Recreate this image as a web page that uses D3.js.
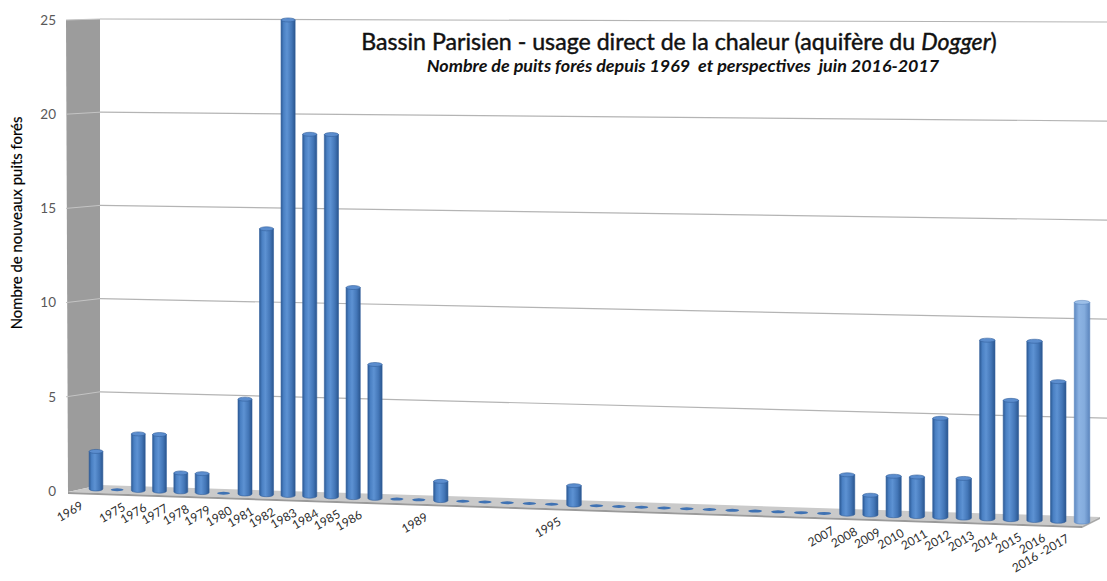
<!DOCTYPE html>
<html>
<head>
<meta charset="utf-8">
<script src="https://cdn.jsdelivr.net/npm/d3@7"></script>
<style>
  body { margin: 0; background: #fff; }
  text { font-family: Lato, "Open Sans", sans-serif; }
</style>
</head>
<body>
<svg id="chart" width="1107" height="581"></svg>
<script>
// category labels (blank = year without label on the axis)
var labels = ["1969", "", "1975", "1976", "1977", "1978", "1979", "1980", "1981", "1982",
  "1983", "1984", "1985", "1986", "", "", "1989", "", "", "", "", "", "1995",
  "", "", "", "", "", "", "", "", "", "", "", "2007", "2008", "2009", "2010",
  "2011", "2012", "2013", "2014", "2015", "2016", "2016 -2017"];
// wells drilled per category
var values = [2, 0, 3, 3, 1, 1, 0, 5, 14, 25, 19, 19, 11, 7, 0, 0, 1, 0, 0, 0, 0, 0, 1,
  0, 0, 0, 0, 0, 0, 0, 0, 0, 0, 0, 2, 1, 2, 2, 5, 2, 9, 6, 9, 7, 11];
var forecastLabel = "2016 -2017";
var yTicks = [0, 5, 10, 15, 20, 25];

var svg = d3.select("#chart");
var defs = svg.append("defs");

/*
  3D-ish SCALES
*/
var idx = d3.range(labels.length);
var xW = d3.scalePoint().domain(idx).range([0, 1000]);      // world x along the floor
var hW = d3.scaleLinear().domain([0, 25]).range([0, 469.75]); // world bar height
var yFront = d3.scaleLinear().domain([0, 25]).range([491, 20]);
var yBackL = d3.scaleLinear().domain([0, 25]).range([485, 19]);
var yBackR = d3.scaleLinear().domain([0, 25]).range([517, 22]);

// perspective: right side of the chart is closer to the viewer
var K = 5.909e-5;
function px(X) { return (0.9221 * X + 96) / (1 - K * X); }
function py(X, h) { return (0.0022 * X + 489 - h) / (1 - K * X); }

/*
  WALLS AND FLOOR
*/
svg.append("polygon")
  .attr("points", [[66, 20], [100, 19], [100, 485], [68, 492]].join(" "))
  .style("fill", "#9c9c9c");

svg.append("polygon")
  .attr("points", [[100, 485], [1100, 517], [1082, 526], [68, 492]].join(" "))
  .style("fill", "#cacaca");
svg.append("polygon")
  .attr("points", [[68, 492], [1082, 526], [1082, 528], [68, 494]].join(" "))
  .style("fill", "#9a9a9a");
svg.append("polygon")
  .attr("points", [[1082, 526], [1100, 517], [1100, 519], [1082, 528]].join(" "))
  .style("fill", "#a8a8a8");

var grid = svg.append("g");
yTicks.forEach(function (v) {
  if (v > 0) {
    grid.append("line")
      .attr("x1", 66).attr("y1", yFront(v)).attr("x2", 100).attr("y2", yBackL(v))
      .style("stroke", "#c4c4c4").style("stroke-width", 1);
    grid.append("line")
      .attr("x1", 100).attr("y1", yBackL(v))
      .attr("x2", 1107).attr("y2", yBackL(v) + (yBackR(v) - yBackL(v)) * 1.007)
      .style("stroke", "#b4b4b4").style("stroke-width", 1.2);
  }
});

/*
  Y AXIS
*/
var yAxis = svg.append("g")
  .attr("transform", "translate(56,0)")
  .call(d3.axisLeft(yFront).tickValues(yTicks).tickSize(0).tickPadding(0));
yAxis.select(".domain").remove();
yAxis.selectAll("text")
  .style("font-size", "13.5px")
  .style("fill", "#595959")
  .style("font-family", 'Lato, "Open Sans", sans-serif');

var yTitle = svg.append("text")
  .attr("transform", "translate(22,223) rotate(-90)")
  .attr("text-anchor", "middle")
  .style("font-size", "13px")
  .style("fill", "#000")
  .style("stroke", "#000").style("stroke-width", 0.2)
  .text("Nombre de nouveaux puits forés");

/*
  BARS (cylinders)
*/
function gradient(id, stops) {
  var g = defs.append("linearGradient").attr("id", id)
    .attr("x1", 0).attr("x2", 1).attr("y1", 0).attr("y2", 0);
  stops.forEach(function (s) {
    g.append("stop").attr("offset", s[0]).attr("stop-color", s[1]);
  });
}
gradient("cyl", [[0, "#2c5a95"], [0.18, "#4a80c3"], [0.42, "#5d92d3"], [0.75, "#4376b7"], [1, "#2a568f"]]);
gradient("cylLight", [[0, "#5e89c2"], [0.3, "#8cb3e3"], [0.65, "#84acdd"], [1, "#5b85bd"]]);

var HALF = 7.4, RY = 2;
var bars = svg.append("g");
idx.forEach(function (i) {
  var X = xW(i), v = values[i];
  var xl = px(X - HALF), xr = px(X + HALF);
  var rx = (xr - xl) / 2, cx = (xl + xr) / 2;
  var yb = py(X, 0), yt = py(X, hW(v));
  var light = labels[i] === forecastLabel;
  if (v === 0) {
    bars.append("ellipse")
      .attr("cx", cx).attr("cy", yb).attr("rx", rx - 0.5).attr("ry", 1.5)
      .style("fill", "#3f72b3");
    return;
  }
  bars.append("path")
    .attr("d", "M" + xl + "," + yt + "L" + xl + "," + yb +
      "A" + rx + "," + RY + " 0 0 0 " + xr + "," + yb +
      "L" + xr + "," + yt + "Z")
    .style("fill", light ? "url(#cylLight)" : "url(#cyl)")
    .style("stroke", light ? "#5a86bf" : "#325f9c")
    .style("stroke-width", 0.6);
  bars.append("ellipse")
    .attr("cx", cx).attr("cy", yt).attr("rx", rx).attr("ry", RY)
    .style("fill", light ? "#9cbfe8" : "#5b8dce")
    .style("stroke", light ? "#5a86bf" : "#325f9c")
    .style("stroke-width", 0.6);
});

/*
  X LABELS
*/
svg.append("g").selectAll("text")
  .data(idx.filter(function (i) { return labels[i] !== ""; }))
  .join("text")
    .attr("transform", function (i) {
      var X = xW(i);
      return "translate(" + (px(X) - 12) + "," + (py(X, 0) + 19) + ") rotate(-30)";
    })
    .attr("text-anchor", "end")
    .style("font-size", "12px")
    .style("fill", "#2e2e2e")
    .text(function (i) { return labels[i]; });

/*
  TITLES
*/
function fitWidth(sel, w) {
  var len = sel.node().getComputedTextLength();
  var fs = parseFloat(sel.style("font-size"));
  sel.style("font-size", (fs * w / len) + "px");
}

var title = svg.append("text")
  .attr("x", 679).attr("y", 50)
  .attr("text-anchor", "middle")
  .style("font-size", "20px")
  .style("fill", "#111")
  .style("stroke", "#111").style("stroke-width", 0.45);
title.append("tspan").text("Bassin Parisien - usage direct de la chaleur (aquifère du ");
title.append("tspan").style("font-style", "italic").text("Dogger");
title.append("tspan").text(")");
fitWidth(title, 636);

var subtitle = svg.append("text")
  .attr("x", 683).attr("y", 72)
  .attr("text-anchor", "middle")
  .style("font-size", "14px")
  .style("font-weight", "bold")
  .style("font-style", "italic")
  .style("white-space", "pre")
  .style("fill", "#111")
  .text("Nombre de puits forés depuis 1969  et perspectives  juin 2016-2017");
fitWidth(subtitle, 513);

fitWidth(yTitle, 213);
</script>
</body>
</html>
